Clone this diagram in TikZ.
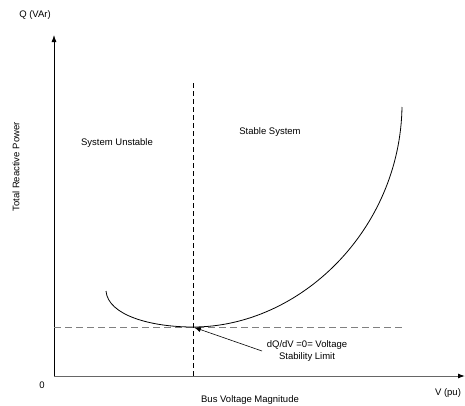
\documentclass[tikz,border=0pt]{standalone}
\usepackage{fontspec}
\setmainfont{Liberation Sans}
\usetikzlibrary{positioning,arrows.meta}
\tikzset{%
  >={Latex[length=7pt,width=5pt]},
  label text/.style={font=\fontsize{9.5}{11.5}\selectfont,inner sep=1pt},
  pv curve/.style={thin,black,line width=0.8pt},
  limit line/.style={black,line width=0.8pt,dash pattern=on 5pt off 3pt},
  min line/.style={black!50,line width=0.8pt,dash pattern=on 7pt off 4pt}
}

\begin{document}
\begin{tikzpicture}[x=1pt,y=-1pt]
\useasboundingbox (0,0) rectangle (465,405);
%% some definitions

\coordinate (O) at (54,376); % origin
\coordinate (Ytop) at (54,35);
\coordinate (Xend) at (465,376);
\coordinate (M) at (193,327); % minimum of the curve
\coordinate (Vtop) at (193,83);
\coordinate (Vbot) at (193,376);
\coordinate (Hleft) at (54,327);
\coordinate (Hright) at (402,327);
\coordinate (Cstart) at (106,291);
\coordinate (Cend) at (402,107);
\coordinate (ptr) at (262,351);

%% axes
\draw[->,black,line width=0.8pt] (O) -- (Ytop);
\draw[-{Latex[length=7pt,width=5pt,black]},black!60,line width=1pt] (O) -- (Xend);

%% stability limit
\draw[limit line] (Vtop) -- (Vbot);
\draw[min line] (Hleft) -- (Hright);

%% Q-V curve
\draw[pv curve] (Cstart) .. controls (108,315) and (150,327) .. (M)
  .. controls (300,327) and (400,230) .. (Cend);

%labelling
\node[label text] (qlab) at (35,15) {Q (VAr)};
\node[label text,rotate=90] (qname) at (16,167) {Total Reactive Power};
\node[label text] (zero) at (42,385) {0};
\node[label text] (vlab) at (448,393) {V (pu)};
\node[label text] (vname) at (250,400) {Bus Voltage Magnitude};
\node[label text] (unst) at (117,143) {System Unstable};
\node[label text] (stab) at (270,132) {Stable System};
\node[label text,align=center] (lim) at (307,351) {dQ/dV =0= Voltage\\Stability Limit};

\draw[->,line width=0.6pt,shorten >=1pt] (ptr) -- (M);

\end{tikzpicture}
\end{document}
